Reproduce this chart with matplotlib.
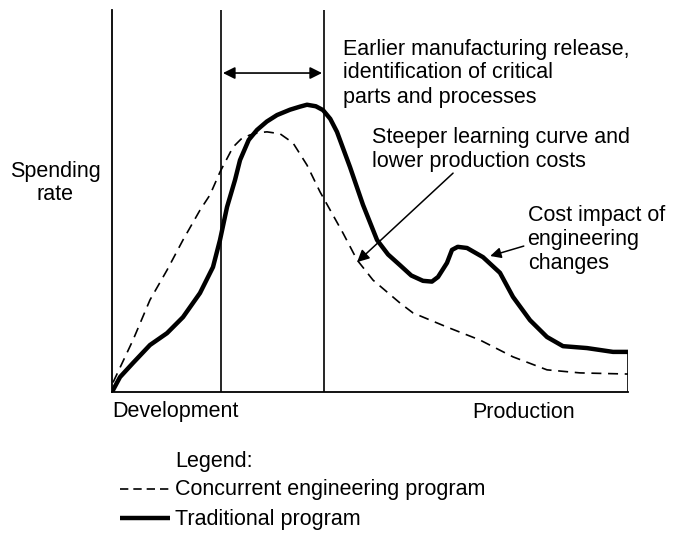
import matplotlib
matplotlib.use("Agg")
import matplotlib.pyplot as plt
from matplotlib.lines import Line2D

# ---- data (time 0-100, spending rate 0-100) ----
trad_x = [0, 1.55, 4.07, 7.36, 10.66, 13.76, 17.05, 19.57, 20.93, 22.29, 23.84, 24.81,
          26.5, 28.10, 30.0, 31.98, 34.5, 36.43, 37.79, 39.5, 40.89, 42.3, 43.60,
          46.12, 48.64, 51.36, 53.5, 55.81, 58.0, 60.27, 62.0, 63.18, 64.92, 65.89,
          67.0, 68.80, 71.90, 75.19, 77.71, 81.01, 84.30, 87.40, 92.05, 97.09, 100]
trad_y = [0, 3.9, 7.6, 12.3, 15.4, 19.6, 25.9, 32.7, 39.8, 48.4, 55.5, 60.7,
          66.0, 68.6, 70.8, 72.5, 73.9, 74.7, 75.2, 74.8, 73.8, 71.5, 68.1,
          58.9, 49.0, 39.8, 36.0, 33.2, 30.5, 29.1, 28.9, 30.1, 33.8, 37.2,
          38.0, 37.7, 35.3, 31.2, 24.9, 18.8, 14.4, 12.0, 11.5, 10.5, 10.5]

conc_x = [0.2, 4.07, 7.36, 10.66, 13.76, 17.05, 18.99, 20.93, 23.45, 25.0, 26.74,
          28.5, 30.04, 32.56, 35.08, 37.79, 40.31, 42.83, 44.77, 47.48, 50.58,
          55.81, 58.33, 64.92, 71.32, 77.71, 84.30, 90.70, 100]
conc_y = [2.5, 13.6, 24.1, 31.9, 39.8, 47.6, 51.6, 57.6, 64.1, 66.2, 67.3,
          67.9, 68.1, 67.6, 65.2, 59.4, 52.4, 46.3, 41.6, 34.6, 29.3,
          23.3, 20.7, 17.0, 13.6, 9.2, 5.8, 5.0, 4.7]

phase_lines = [21.1, 41.1]
release_arrow_y = 83.5

W, H = 686, 539
FONT = "Liberation Sans"
FS = 15.5

fig = plt.figure(figsize=(W / 100, H / 100), dpi=100)
ax = fig.add_axes([112 / W, 1 - 392 / H, (628 - 112) / W, (392 - 10) / H])
ax.set_xlim(0, 100)
ax.set_ylim(0, 100)
ax.set_xticks([])
ax.set_yticks([])
for s in ("top", "right"):
    ax.spines[s].set_visible(False)
for s in ("left", "bottom"):
    ax.spines[s].set_linewidth(1.3)
ax.patch.set_alpha(0)

# phase boundaries
for xv in phase_lines:
    ax.plot([xv, xv], [0, 100], color="black", lw=1.2, solid_capstyle="butt")
# short right edge up to traditional curve end
ax.plot([100, 100], [0, trad_y[-1]], color="black", lw=1.2)

# curves
ax.plot(conc_x, conc_y, color="black", lw=1.2, ls=(0, (6, 4)))
ax.plot(trad_x, trad_y, color="black", lw=3.2, solid_joinstyle="round",
        solid_capstyle="round")

# double arrow between phase lines
ax.annotate("", xy=(phase_lines[0] + 0.4, release_arrow_y),
            xytext=(phase_lines[1] - 0.4, release_arrow_y),
            arrowprops=dict(arrowstyle="<|-|>", color="black", lw=1.2,
                            mutation_scale=18, shrinkA=0, shrinkB=0))

# annotation arrows
ax.annotate("", xy=(47.5, 34.0), xytext=(66.1, 57.3),
            arrowprops=dict(arrowstyle="-|>", color="black", lw=1.1,
                            mutation_scale=18, shrinkA=0, shrinkB=0))
ax.annotate("", xy=(73.3, 35.6), xytext=(79.8, 38.2),
            arrowprops=dict(arrowstyle="-|>", color="black", lw=1.1,
                            mutation_scale=16, shrinkA=0, shrinkB=0))


def ftext(px, py, s, ha="left", **kw):
    fig.text(px / W, 1 - py / H, s, ha=ha, va="center", family=FONT,
             fontsize=FS, **kw)


ftext(343, 49, "Earlier manufacturing release,")
ftext(343, 73, "identification of critical")
ftext(343, 97, "parts and processes")
ftext(372, 138, "Steeper learning curve and")
ftext(372, 161, "lower production costs")
ftext(528, 215, "Cost impact of")
ftext(527, 239, "engineering")
ftext(528, 263, "changes")
ftext(55, 172, "Spending", ha="center")
ftext(55, 194, "rate", ha="center")
ftext(112, 412, "Development")
ftext(472, 412, "Production")

# legend
ftext(175, 462, "Legend:")
ftext(175, 489, "Concurrent engineering program")
ftext(175, 520, "Traditional program")
fig.add_artist(Line2D([120 / W, 172 / W], [1 - 489 / H] * 2, color="black",
                      lw=1.2, ls=(0, (5, 3))))
fig.add_artist(Line2D([120 / W, 170 / W], [1 - 518 / H] * 2, color="black",
                      lw=3.2, solid_capstyle="butt"))

fig.savefig("out.png", dpi=100)
